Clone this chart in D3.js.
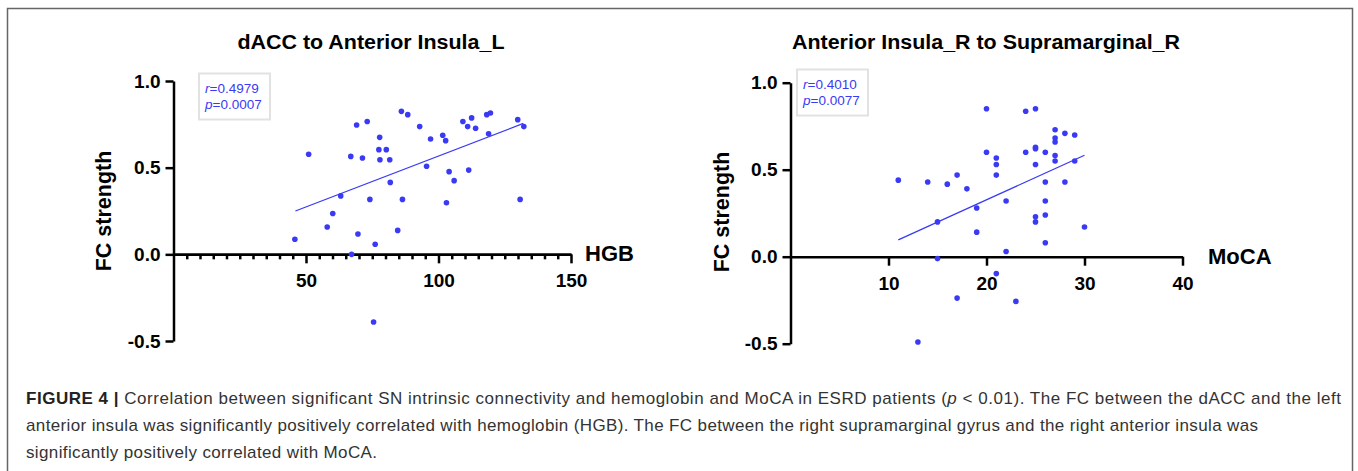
<!DOCTYPE html>
<html lang="en">
<head>
<meta charset="UTF-8">
<title>Figure 4</title>
<script src="https://cdn.jsdelivr.net/npm/d3@7"></script>
<style>
    body { margin: 0; background: #fff; }
    svg text { font-family: "Liberation Sans", Arial, Helvetica, sans-serif; }
    .axis path, .axis line { stroke: #000; stroke-width: 2.5; }
    .axis text { font-size: 19px; font-weight: bold; fill: #000; }
</style>
</head>
<body>
<div id="chart"></div>
<script>
// left panel: HGB vs FC strength
const hgbValues = [45.8, 51.0, 58.0, 60.1, 63.1, 66.9, 67.2, 69.1, 69.6, 71.3, 73.1, 74.1, 75.5, 76.1,
    77.8, 77.5, 80.3, 77.9, 81.6, 81.8, 84.6, 86.0, 86.4, 88.4, 92.9, 95.5, 97.0, 101.6, 102.7, 103.0,
    104.0, 105.9, 109.2, 111.0, 111.4, 112.5, 114.0, 118.2, 119.6, 118.9, 129.9, 130.8, 132.2];
const hgbFc = [0.087, 0.577, 0.158, 0.236, 0.337, 0.565, 0.0, 0.746, 0.117, 0.556, 0.766, 0.317, -0.39, 0.058,
    0.675, 0.604, 0.604, 0.546, 0.546, 0.415, 0.138, 0.825, 0.317, 0.806, 0.737, 0.508, 0.665, 0.687, 0.656, 0.298,
    0.477, 0.425, 0.766, 0.737, 0.486, 0.787, 0.727, 0.806, 0.815, 0.696, 0.777, 0.317, 0.737];
const hgbFitX = [46, 132];
const hgbFitY = [0.25, 0.755];

// right panel: MoCA vs FC strength
const mocaValues = [11, 14, 15, 15, 16, 17, 18, 19, 19, 20, 20, 21, 21, 21, 21, 22, 22, 23, 24, 24,
    25, 25, 25, 25, 25, 25, 26, 26, 26, 26, 26, 27, 27, 27, 27, 27, 28, 28, 29, 29, 30, 17, 13];
const mocaFc = [0.44, 0.429, -0.011, 0.20, 0.417, 0.469, 0.39, 0.28, 0.141, 0.85, 0.60, 0.567, 0.53, 0.469, -0.097,
    0.32, 0.03, -0.257, 0.836, 0.60, 0.85, 0.629, 0.621, 0.53, 0.23, 0.20, 0.60, 0.429, 0.32, 0.24, 0.08,
    0.73, 0.682, 0.659, 0.581, 0.55, 0.709, 0.429, 0.699, 0.55, 0.171, -0.238, -0.49];
const mocaFitX = [11, 30];
const mocaFitY = [0.097, 0.583];

const yTicks = [-0.5, 0.0, 0.5, 1.0];
const hgbTicks = [50, 100, 150];
const mocaTicks = [10, 20, 30, 40];

const blue = "#3a3af5";
const w = 1358, h = 471;

const svg = d3.select("#chart").append("svg")
    .attr("width", w)
    .attr("height", h);

// figure frame
svg.append("rect")
    .attr("x", 7.5).attr("y", 8.5)
    .attr("width", 1345).attr("height", 480)
    .attr("fill", "none")
    .attr("stroke", "#666")
    .attr("stroke-width", 1.5);

const drawPanel = (p) => {
    const x = d3.scaleLinear().domain(p.xDomain).range(p.xRange);
    const y = d3.scaleLinear().domain([-0.5, 1.0]).range(p.yRange);
    const g = svg.append("g");

    // y axis
    g.append("g")
        .attr("class", "axis")
        .attr("transform", `translate(${p.xRange[0]},0)`)
        .call(d3.axisLeft(y).tickValues(yTicks).tickSize(8).tickSizeOuter(0).tickPadding(5)
            .tickFormat(d => d.toFixed(1)));

    // x axis at y = 0
    if (p.minor) {
        g.append("g")
            .attr("class", "axis")
            .attr("transform", `translate(0,${y(0)})`)
            .call(d3.axisBottom(x).tickValues(d3.range(5, 150, 5).filter(d => d % 50 !== 0))
                .tickSize(5).tickSizeOuter(0).tickFormat(""));
    }
    const xa = g.append("g")
        .attr("class", "axis")
        .attr("transform", `translate(0,${y(0)})`)
        .call(d3.axisBottom(x).tickValues(p.ticks).tickSize(9).tickSizeOuter(0));
    xa.selectAll("text").attr("y", 33).attr("dy", 0);

    // axis titles
    g.append("text")
        .attr("x", p.xLabelX).attr("y", y(0) + 7)
        .attr("font-size", 22).attr("font-weight", "bold")
        .text(p.xLabel);

    g.append("text")
        .attr("transform", `translate(${p.yLabelX},${p.yLabelY}) rotate(-90)`)
        .attr("text-anchor", "middle")
        .attr("font-size", 21.5).attr("font-weight", "bold")
        .text("FC strength");

    // title
    g.append("text")
        .attr("x", p.titleX).attr("y", 49)
        .attr("text-anchor", "middle")
        .attr("font-size", 20).attr("font-weight", "bold")
        .attr("textLength", p.titleLen)
        .attr("lengthAdjust", "spacingAndGlyphs")
        .text(p.title);

    // regression line
    g.append("line")
        .attr("x1", x(p.fitX[0])).attr("y1", y(p.fitY[0]))
        .attr("x2", x(p.fitX[1])).attr("y2", y(p.fitY[1]))
        .attr("stroke", blue)
        .attr("stroke-width", 1.3);

    // points
    g.selectAll("circle")
        .data(p.xs)
        .enter()
        .append("circle")
        .attr("cx", d => x(d))
        .attr("cy", (d, i) => y(p.ys[i]))
        .attr("r", 2.8)
        .attr("fill", blue);

    // stats box
    const bx = p.box[0], by = p.box[1];
    g.append("rect")
        .attr("x", bx).attr("y", by)
        .attr("width", 71).attr("height", 46)
        .attr("fill", "#fff")
        .attr("stroke", "#e2e2e2")
        .attr("stroke-width", 2);
    const st = [["r", p.r], ["p", p.pval]];
    st.forEach((s, i) => {
        const t = g.append("text")
            .attr("x", bx + 6).attr("y", by + 19 + i * 16.5)
            .attr("font-size", 13.5)
            .attr("fill", blue);
        t.append("tspan").attr("font-style", "italic").text(s[0]);
        t.append("tspan").text("=" + s[1]);
    });
};

drawPanel({
    xDomain: [0, 150], xRange: [173.5, 571], yRange: [341, 81],
    ticks: hgbTicks, minor: true,
    xs: hgbValues, ys: hgbFc, fitX: hgbFitX, fitY: hgbFitY,
    xLabel: "HGB", xLabelX: 585,
    yLabelX: 111, yLabelY: 211,
    title: "dACC to Anterior Insula_L", titleX: 371, titleLen: 267,
    box: [199, 73.5], r: "0.4979", pval: "0.0007"
});

drawPanel({
    xDomain: [0, 40], xRange: [790.5, 1182.5], yRange: [343.7, 82.7],
    ticks: mocaTicks, minor: false,
    xs: mocaValues, ys: mocaFc, fitX: mocaFitX, fitY: mocaFitY,
    xLabel: "MoCA", xLabelX: 1208,
    yLabelX: 729, yLabelY: 212,
    title: "Anterior Insula_R to Supramarginal_R", titleX: 986, titleLen: 388,
    box: [797, 69.5], r: "0.4010", pval: "0.0077"
});

// caption
const cap = svg.append("g").attr("fill", "#333").attr("font-size", 17);
const l1 = cap.append("text").attr("x", 26).attr("y", 404)
    .attr("textLength", 1315).attr("lengthAdjust", "spacing");
l1.append("tspan").attr("font-weight", "bold").attr("fill", "#222").text("FIGURE 4 | ");
l1.append("tspan").text("Correlation between significant SN intrinsic connectivity and hemoglobin and MoCA in ESRD patients (");
l1.append("tspan").attr("font-style", "italic").text("p");
l1.append("tspan").text(" < 0.01). The FC between the dACC and the left");

cap.append("text").attr("x", 26).attr("y", 431)
    .attr("textLength", 1232).attr("lengthAdjust", "spacing")
    .text("anterior insula was significantly positively correlated with hemoglobin (HGB). The FC between the right supramarginal gyrus and the right anterior insula was");

cap.append("text").attr("x", 26).attr("y", 458)
    .attr("textLength", 351).attr("lengthAdjust", "spacing")
    .text("significantly positively correlated with MoCA.");
</script>
</body>
</html>
